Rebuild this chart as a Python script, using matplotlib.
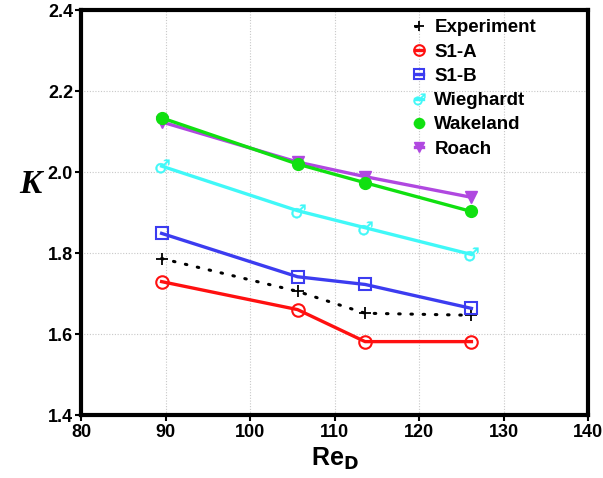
import matplotlib
matplotlib.use("Agg")
import matplotlib.pyplot as plt

# Reynolds numbers (diameter based)
re_d = [89.5, 105.6, 113.6, 126.2]

k_experiment = [1.787, 1.706, 1.652, 1.647]
k_s1a = [1.730, 1.661, 1.582, 1.582]
k_s1b = [1.849, 1.742, 1.723, 1.664]
k_wieghardt = [2.015, 1.905, 1.863, 1.797]
k_wakeland = [2.134, 2.020, 1.974, 1.903]
k_roach = [2.124, 2.025, 1.989, 1.938]

xticks = [80, 90, 100, 110, 120, 130, 140]
yticks = [1.4, 1.6, 1.8, 2.0, 2.2, 2.4]

plt.rcParams["font.family"] = ["Liberation Sans", "DejaVu Sans"]

fig = plt.figure(figsize=(6.03, 4.78), dpi=100)
ax = fig.add_axes([0.135, 0.131, 0.84, 0.848])

lw = 2.4
ax.plot(re_d, k_experiment, color="black", ls=(0, (0.5, 3.5)), lw=2.2,
        dash_capstyle="round", marker="+", ms=9, mew=1.3, label="Experiment")
ax.plot(re_d, k_s1a, color="#ff1010", lw=lw, marker="o", ms=9, mfc="none",
        mew=1.5, label="S1-A")
ax.plot(re_d, k_s1b, color="#3c3cf0", lw=lw, marker="s", ms=9, mfc="none",
        mew=1.5, label="S1-B")
ax.plot(re_d, k_wieghardt, color="#40f8f8", lw=lw, marker="$\u2642$", ms=10,
        mew=0.3, label="Wieghardt")
ax.plot(re_d, k_wakeland, color="#10e010", lw=lw, marker="o", ms=8.5,
        label="Wakeland", zorder=4)
ax.plot(re_d, k_roach, color="#b048e0", lw=lw, marker="v", ms=8.5,
        label="Roach", zorder=3)

ax.set_xlim(80, 140)
ax.set_ylim(1.4, 2.4)
ax.set_xticks(xticks)
ax.set_yticks(yticks)
ax.set_yticklabels([f"{v:.1f}" for v in yticks])
ax.grid(True, color="#c8c8c8", ls=(0, (1, 1.5)), lw=0.8)
ax.set_axisbelow(True)

for s in ax.spines.values():
    s.set_linewidth(3)
ax.tick_params(direction="out", length=4, width=1.5, labelsize=13, pad=2)
for lab in ax.get_xticklabels() + ax.get_yticklabels():
    lab.set_fontweight("bold")

ax.set_xlabel("Re$_\\mathbf{D}$", fontsize=18, fontweight="bold", labelpad=4)
ax.set_ylabel("K", fontsize=24, fontweight="bold", fontstyle="italic",
              family="Liberation Serif", rotation=0, va="center")
ax.yaxis.set_label_coords(-0.1, 0.57)

leg = ax.legend(loc="upper right", bbox_to_anchor=(0.92, 1.005), frameon=False,
                handlelength=0.45, handletextpad=0.6, labelspacing=0.38,
                borderaxespad=0.2, markerscale=0.85,
                prop={"weight": "bold", "size": 13.5})

fig.savefig("out.png", dpi=100)
